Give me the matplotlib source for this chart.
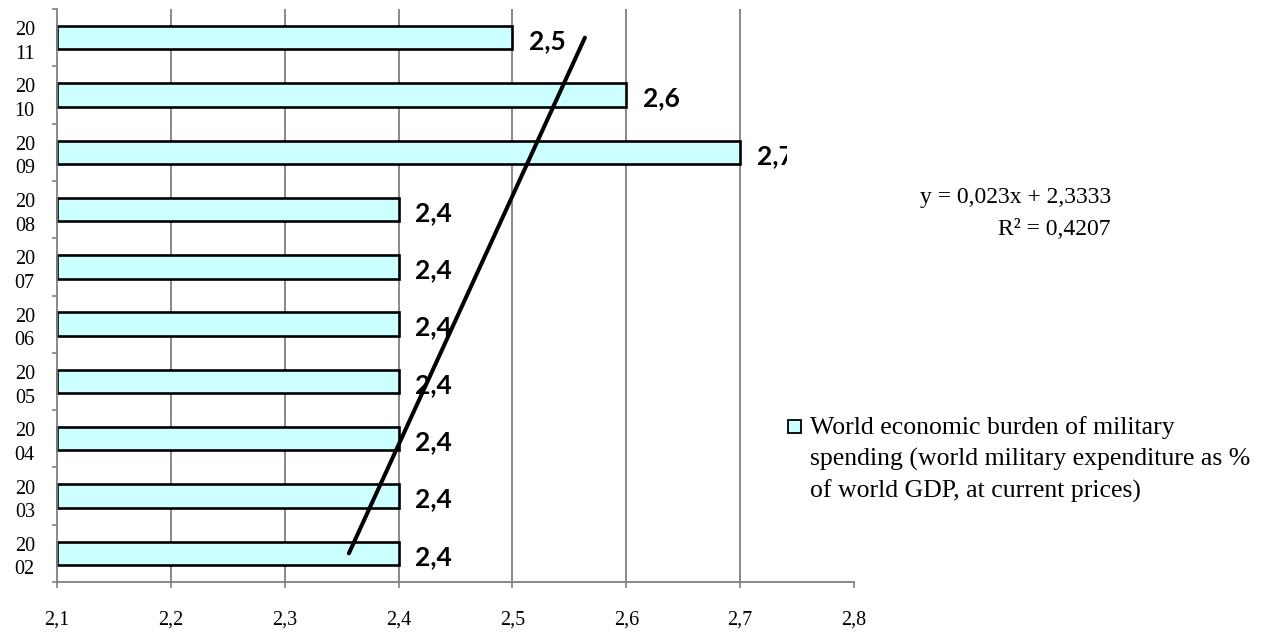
import numpy as np
import matplotlib
matplotlib.use("Agg")
import matplotlib.pyplot as plt
from matplotlib.patches import Rectangle

# Data
years = ["2002", "2003", "2004", "2005", "2006", "2007", "2008", "2009", "2010", "2011"]
burden = [2.4, 2.4, 2.4, 2.4, 2.4, 2.4, 2.4, 2.7, 2.6, 2.5]
x_ticks = [2.1, 2.2, 2.3, 2.4, 2.5, 2.6, 2.7, 2.8]
series_label = ("World economic burden of military\n"
                "spending (world military expenditure as %\n"
                "of world GDP, at current prices)")

W, H = 1266, 632
SERIF = "Liberation Serif"
GRID = "#808080"
FILL = "#CCFFFF"


def fx(px):
    return px / W


def fy(py):
    return 1 - py / H


def comma(v, nd):
    return f"{v:.{nd}f}".replace(".", ",")


fig = plt.figure(figsize=(W / 100, H / 100), dpi=100)
ax = fig.add_axes([fx(57), fy(582), fx(854) - fx(57), fy(9) - fy(582)])

pos = np.arange(len(years))
x0, x1 = x_ticks[0], x_ticks[-1]

# vertical gridlines behind the bars
ax.vlines(x_ticks[1:-1], -0.5, len(years) - 0.5, colors=GRID, lw=1.3, zorder=0.5)

bars = ax.barh(pos, np.array(burden) - x0, left=x0, height=0.41,
               color=FILL, edgecolor="black", linewidth=1.9, zorder=2)
for b in bars:
    b.set_clip_on(False)

# linear trend over the category index (1..n)
idx = np.arange(1, len(years) + 1)
slope, intercept = np.polyfit(idx, burden, 1)
trend = slope * idx + intercept
resid = np.array(burden) - trend
r2 = 1 - np.sum(resid ** 2) / np.sum((np.array(burden) - np.mean(burden)) ** 2)
ax.plot(trend, pos, color="black", lw=2.9, solid_capstyle="round", zorder=4)

ax.set_xlim(x0, x1)
ax.set_ylim(-0.5, len(years) - 0.5)

for s in ("top", "right"):
    ax.spines[s].set_visible(False)
for s in ("left", "bottom"):
    ax.spines[s].set_color(GRID)
    ax.spines[s].set_linewidth(1.3)

ax.set_xticks(x_ticks)
ax.set_xticklabels([comma(t, 1) for t in x_ticks], fontfamily=SERIF, fontsize=14.5)
ax.tick_params(axis="x", direction="out", length=4.5, width=1.2, color=GRID, pad=16)

ax.set_yticks(pos)
ax.set_yticklabels([y[:2] + "\n" + y[2:] for y in years], fontfamily=SERIF,
                   fontsize=14.5, linespacing=1.33)
ax.set_yticks(np.arange(-0.5, len(years), 1), minor=True)
ax.tick_params(axis="y", which="major", length=0, pad=16)
ax.tick_params(axis="y", which="minor", direction="out", length=3.8, width=1.2, color=GRID)

# value labels, clipped on the right like the chart area
clip = Rectangle((0, 0), fx(787), 1, transform=fig.transFigure, visible=False)
fig.add_artist(clip)
for p, v in zip(pos, burden):
    t = ax.annotate(comma(v, 1), xy=(v, p), xytext=(12, -2.5), textcoords="offset points",
                    ha="left", va="center", fontfamily="Lato", fontweight="bold",
                    fontsize=19, color="black", annotation_clip=False, zorder=5)
    t.set_clip_path(clip)

# trend equation
fig.text(fx(1111), fy(198), f"y = {comma(slope, 3)}x + {comma(intercept, 4)}",
         ha="right", va="center", fontfamily=SERIF, fontsize=17)
fig.text(fx(1111), fy(230), f"R² = {comma(r2, 4)}",
         ha="right", va="center", fontfamily=SERIF, fontsize=17)

# legend
fig.add_artist(Rectangle((fx(788), fy(433)), fx(13), 13 / H, transform=fig.transFigure,
                         facecolor=FILL, edgecolor="black", linewidth=1.3))
fig.text(fx(810), fy(416), series_label, ha="left", va="top",
         fontfamily=SERIF, fontsize=18.5, linespacing=1.5)

fig.savefig("out.png", dpi=100)
